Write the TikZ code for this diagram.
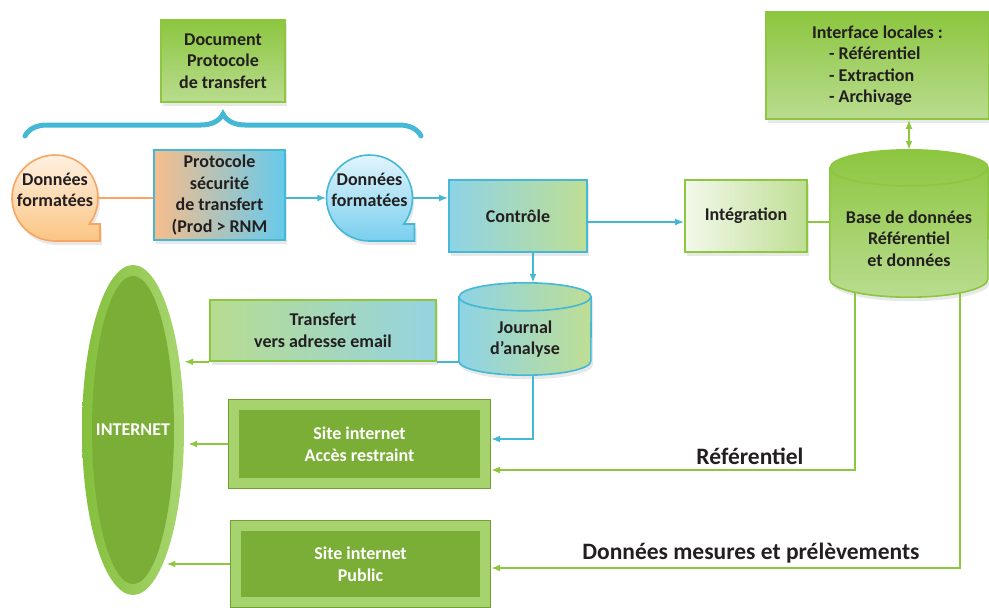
\documentclass[tikz,border=0pt]{standalone}
\usepackage{fontspec}
\setmainfont{Carlito}
\usetikzlibrary{shapes.geometric,arrows.meta,decorations.pathreplacing,backgrounds,shadows}
\definecolor{txt}{RGB}{35,31,32}
\definecolor{lineblue}{RGB}{69,184,214}
\definecolor{linegreen}{RGB}{141,198,63}
\definecolor{lineorange}{RGB}{247,165,96}
\definecolor{greentop}{RGB}{140,198,63}
\definecolor{greenbot}{RGB}{185,220,143}
\definecolor{palegreen}{RGB}{243,248,234}
\definecolor{midgreen}{RGB}{190,222,148}
\definecolor{lightblue}{RGB}{142,211,230}
\definecolor{skyblue}{RGB}{102,202,236}
\definecolor{peach}{RGB}{246,189,140}
\definecolor{transgreen}{RGB}{183,220,144}
\definecolor{transblue}{RGB}{148,211,226}
\definecolor{sitegreen}{RGB}{123,174,55}
\definecolor{siteframe}{RGB}{166,211,110}
\definecolor{siteedge}{RGB}{112,160,50}
\definecolor{ringdark}{RGB}{132,191,60}
\definecolor{ringlight}{RGB}{168,214,112}
\definecolor{bubbleorange}{RGB}{251,197,132}
\definecolor{bubblecream}{RGB}{255,243,230}
\definecolor{bubbleblue}{RGB}{121,207,238}
\definecolor{bubbleice}{RGB}{232,247,253}
\begin{document}
\begin{tikzpicture}[
    x=1pt, y=-1pt,
    every node/.style={font=\bfseries\fontsize{18}{21.5}\selectfont, text=txt, align=center},
    >={Latex[length=9pt,width=7pt]},
    softshadow/.style={drop shadow={opacity=0.18, shadow xshift=2pt, shadow yshift=-4pt}},
    boxnode/.style={rectangle, draw=#1, line width=1.6pt, inner sep=2pt, softshadow},
    dbspace/.style={rectangle, inner sep=0pt},
    sitebox/.style={rectangle, fill=sitegreen, text=white, outer sep=11pt,
      preaction={draw=siteedge, line width=22pt},
      preaction={draw=siteframe, line width=20pt}},
    blueline/.style={draw=lineblue, line width=1.8pt},
    greenline/.style={draw=linegreen, line width=1.8pt},
    caption/.style={font=\bfseries\fontsize{23.5}{28}\selectfont}
  ]
  \useasboundingbox (0,0) rectangle (989,608);

  % upper chain
  \node[boxnode=linegreen, top color=greentop, bottom color=greenbot,
    minimum width=124pt, minimum height=82pt] (doc) at (223,61) {Document\\Protocole\\de transfert};
  \draw[lineblue, line width=5pt, line cap=round, decorate,
    decoration={brace, amplitude=22pt}] (25,136) -- (421,136);
  \node[circle, minimum size=86pt, inner sep=0pt,
    label={[yshift=8pt]center:Données\\formatées}] (b1) at (55,198) {};
  \node[boxnode=lineblue, left color=peach, right color=skyblue,
    minimum width=131pt, minimum height=90pt] (proto) at (219.5,195) {Protocole\\sécurité\\de transfert\\(Prod > RNM};
  \node[circle, minimum size=86pt, inner sep=0pt,
    label={[yshift=8pt]center:Données\\formatées}] (b2) at (369.5,198) {};
  \node[boxnode=lineblue, left color=lightblue, right color=midgreen,
    minimum width=138pt, minimum height=72pt] (ctrl) at (518,216) {Contrôle};
  \node[boxnode=linegreen, left color=palegreen, right color=midgreen,
    minimum width=122pt, minimum height=72pt] (integ) at (746,216) {Intégration};
  \node[dbspace, minimum width=158pt, minimum height=147pt,
    label={[yshift=-15pt]center:Base de données\\Référentiel\\et données}] (db) at (909,223.5) {};
  \node[boxnode=linegreen, top color=greentop, bottom color=greenbot,
    minimum width=223pt, minimum height=107pt, align=left] (iface) at (877.5,65.5)
    {Interface locales :\\\hspace*{17pt}- Référentiel\\\hspace*{17pt}- Extraction\\\hspace*{17pt}- Archivage};

  % lower part
  \node[dbspace, minimum width=132pt, minimum height=92pt,
    label={[yshift=-10pt]center:Journal\\d’analyse}] (jour) at (525,329) {};
  \node[boxnode=linegreen, left color=transgreen, right color=transblue,
    minimum width=226pt, minimum height=61pt] (trans) at (323,330.5) {Transfert\\vers adresse email};
  \node[ellipse, left color=ringdark, right color=ringlight, inner sep=0pt,
    minimum width=102pt, minimum height=330pt] (inet) at (133,430) {};
  \node[ellipse, fill=sitegreen, inner sep=0pt, minimum width=82pt, minimum height=308pt,
    label={[text=white]center:INTERNET}] (inetcore) at (inet.center) {};
  \node[sitebox, minimum width=241pt, minimum height=68pt] (acc) at (359.5,444) {Site internet\\Accès restraint};
  \node[sitebox, minimum width=239pt, minimum height=66pt] (pub) at (360.5,564) {Site internet\\Public};
  \node[caption] (reflbl) at (750,456) {Référentiel};
  \node[caption] (mesurelbl) at (751,553) {Données mesures et prélèvements};

  \begin{scope}[on background layer]
    % bubbles and cylinders
    \path[draw=lineorange, line width=1.6pt, top color=bubblecream, bottom color=bubbleorange, softshadow]
      ([yshift=-43pt]b1.center) -- ++(45,0) -- ++(0,-17) -- ++(-10.75,0)
      arc[start angle=37.2, end angle=-270, radius=43] -- cycle;
    \path[draw=lineblue, line width=1.6pt, top color=bubbleice, bottom color=bubbleblue, softshadow]
      ([yshift=-43pt]b2.center) -- ++(45,0) -- ++(0,-17) -- ++(-10.75,0)
      arc[start angle=37.2, end angle=-270, radius=43] -- cycle;
    \path[draw=linegreen, line width=1.6pt, top color=greentop, bottom color=greenbot, softshadow]
      ([yshift=-18pt]db.north west) -- ([yshift=18pt]db.south west)
      arc[start angle=180, end angle=0, x radius=79, y radius=18]
      -- ([yshift=-18pt]db.north east)
      arc[start angle=0, end angle=-180, x radius=79, y radius=18] -- cycle;
    \draw[linegreen, line width=1.6pt] ([yshift=-18pt]db.north west)
      arc[start angle=180, end angle=0, x radius=79, y radius=18];
    \path[draw=lineblue, line width=1.6pt, left color=lightblue, right color=midgreen, softshadow]
      ([yshift=-14pt]jour.north west) -- ([yshift=14pt]jour.south west)
      arc[start angle=180, end angle=0, x radius=66, y radius=14]
      -- ([yshift=-14pt]jour.north east)
      arc[start angle=0, end angle=-180, x radius=66, y radius=14] -- cycle;
    \draw[lineblue, line width=1.6pt] ([yshift=-14pt]jour.north west)
      arc[start angle=180, end angle=0, x radius=66, y radius=14];
    % connectors
    \draw[line width=1.8pt, lineorange] (b1.east) -- (b1.east -| proto.west);
    \draw[blueline, ->] (b2.west -| proto.east) -- (b2.west);
    \draw[blueline, ->] (b2.east) -- (b2.east -| ctrl.west);
    \draw[blueline, ->] ([yshift=-6pt]ctrl.east) -- ([yshift=-6pt]ctrl.east -| integ.west);
    \draw[greenline] ([yshift=-6pt]integ.east) -- ([yshift=-6pt]integ.east -| db.west);
    \draw[greenline, <->] (db.north) -- (db.north |- iface.south);
    \draw[blueline, ->] ([xshift=15pt]ctrl.south) -- ([xshift=15pt]ctrl.south |- jour.north);
    \draw[blueline] (trans.south east -| jour.west) -- (trans.south east);
    \draw[greenline, ->] (trans.south west) -- (trans.south west -| inet.east);
    \draw[blueline, ->] ([xshift=8pt]jour.south) |- ([yshift=5pt]acc.east);
    \draw[greenline, ->, shorten >=4pt] (acc.west) -- (acc.west -| inet.east);
    \draw[greenline, ->] ([xshift=-54pt,yshift=5pt]db.south) |- ([yshift=-26pt]acc.east);
    \draw[greenline, ->] ([xshift=51pt,yshift=4pt]db.south) |- ([yshift=-4pt]pub.east);
    \draw[greenline, ->] (pub.west) -- (pub.west -| inet.-75);
  \end{scope}
\end{tikzpicture}
\end{document}
